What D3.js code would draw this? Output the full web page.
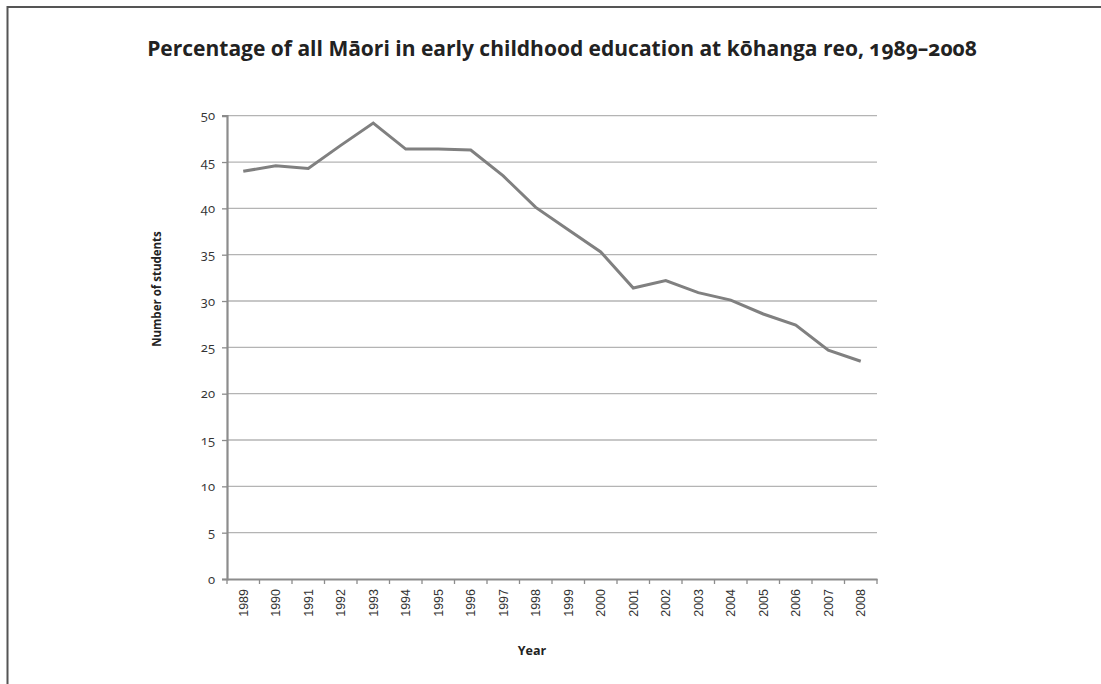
<!DOCTYPE html>
<html><head><meta charset="utf-8">
<script src="https://cdn.jsdelivr.net/npm/d3@7"></script>
<style>
body{margin:0;background:#fff;}
svg{display:block;}
</style></head>
<body>
<svg id="chart" width="1101" height="684"></svg>
<script>
const years = ["1989","1990","1991","1992","1993","1994","1995","1996","1997","1998","1999","2000","2001","2002","2003","2004","2005","2006","2007","2008"];
const percentages = [44.0,44.6,44.3,46.8,49.2,46.4,46.4,46.3,43.5,40.1,37.7,35.3,31.4,32.2,30.9,30.1,28.6,27.4,24.7,23.5];
const yTicks = [0,5,10,15,20,25,30,35,40,45,50];
const titleText = "Percentage of all Māori in early childhood education at kōhanga reo, 1989–2008";
const yTitle = "Number of students";
const xTitle = "Year";

const svg = d3.select("#chart");
const W = 1101, H = 684;
const m = {left:227, right:1101-877, top:115.7, bottom:684-579};

// frame: top and left lines only
svg.append("line").attr("x1",7).attr("x2",W).attr("y1",7).attr("y2",7)
  .attr("stroke","#555").attr("stroke-width",2);
svg.append("line").attr("x1",7.5).attr("x2",7.5).attr("y1",6).attr("y2",H)
  .attr("stroke","#555").attr("stroke-width",2);

const title = svg.append("text").attr("x",562).attr("y",56).attr("text-anchor","middle")
  .attr("font-family","'Open Sans', Lato, sans-serif").attr("font-weight","bold")
  .attr("font-size",21).attr("fill","#222").style("font-variant-numeric","oldstyle-nums")
  .text(titleText);

const x = d3.scaleBand().domain(years).range([m.left, W-m.right]);
const y = d3.scaleLinear().domain([0,50]).range([H-m.bottom, m.top]);

// gridlines
svg.append("g").selectAll("line").data(yTicks.filter(d=>d>0)).join("line")
  .attr("x1",m.left).attr("x2",W-m.right)
  .attr("y1",d=>y(d)).attr("y2",d=>y(d))
  .attr("stroke","#b4b4b4").attr("stroke-width",1.3);

// y axis
const yAxis = svg.append("g").attr("transform",`translate(${m.left},0)`)
  .call(d3.axisLeft(y).tickValues(yTicks).tickSize(5).tickPadding(7));
yAxis.select(".domain").attr("stroke","#8c8c8c").attr("stroke-width",2.2);
yAxis.selectAll(".tick line").attr("stroke","#8c8c8c").attr("stroke-width",1.3);
yAxis.selectAll(".tick text").attr("font-family","'Open Sans', Lato, sans-serif")
  .attr("font-size",13).attr("fill","#333").style("font-variant-numeric","oldstyle-nums");

// x axis
const xAxis = svg.append("g").attr("transform",`translate(0,${H-m.bottom})`)
  .call(d3.axisBottom(x).tickSize(0).tickPadding(0));
xAxis.select(".domain").attr("stroke","#8c8c8c").attr("stroke-width",2.2);
xAxis.selectAll(".tick text")
  .attr("font-family","'Liberation Sans', Arial, sans-serif").attr("font-size",12.5).attr("fill","#333")
  .attr("transform","rotate(-90)").attr("text-anchor","end")
  .attr("x",-10).attr("y",0).attr("dy","0.35em");
// boundary ticks
const bounds = years.map(d=>x(d)).concat([x(years[years.length-1])+x.bandwidth()]);
xAxis.append("g").selectAll("line").data(bounds).join("line")
  .attr("x1",d=>d).attr("x2",d=>d).attr("y1",0).attr("y2",5)
  .attr("stroke","#8c8c8c").attr("stroke-width",1.3);

// line
const line = d3.line().x((d,i)=>x(years[i])+x.bandwidth()/2).y(d=>y(d));
svg.append("path").datum(percentages).attr("d",line)
  .attr("fill","none").attr("stroke","#808080").attr("stroke-width",3).attr("stroke-linejoin","miter");

// axis titles
svg.append("text").attr("transform",`translate(161,289) rotate(-90)`).attr("text-anchor","middle")
  .attr("font-family","'Open Sans', Lato, sans-serif").attr("font-weight","bold").attr("font-size",11.5)
  .attr("fill","#222").text(yTitle);
svg.append("text").attr("x",532).attr("y",655).attr("text-anchor","middle")
  .attr("font-family","'Open Sans', Lato, sans-serif").attr("font-weight","bold").attr("font-size",12.5)
  .attr("fill","#222").text(xTitle);
</script>
</body></html>
